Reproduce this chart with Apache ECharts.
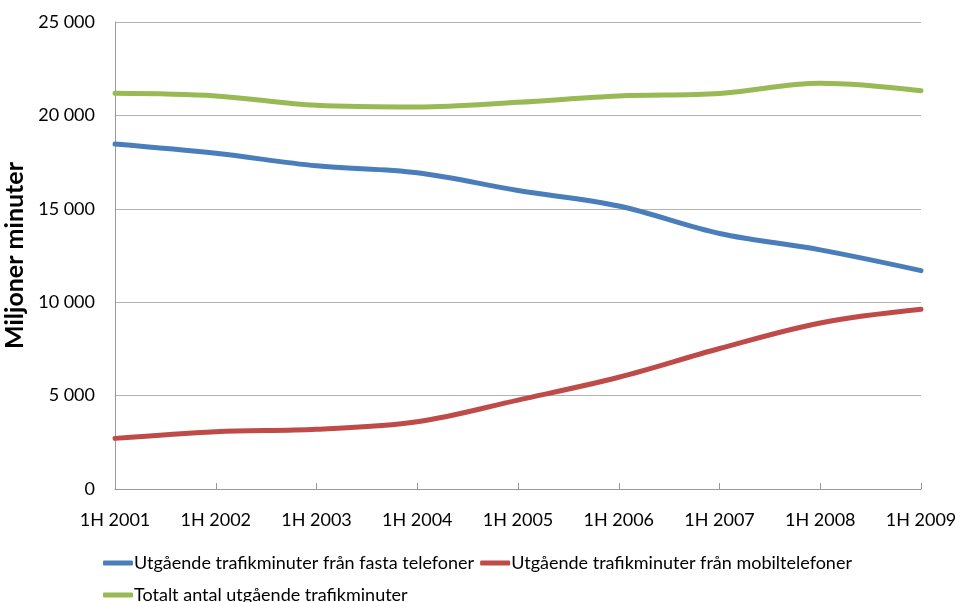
<!DOCTYPE html>
<html>
<head>
<meta charset="utf-8">
<script src="https://cdn.jsdelivr.net/npm/echarts@6/dist/echarts.min.js"></script>
<style>
  html, body { margin: 0; padding: 0; background: #fff; }
  #chart { width: 956px; height: 602px; }
</style>
</head>
<body>
<div id="chart"></div>
<script>
// Half-year periods
const periods = ['1H 2001', '1H 2002', '1H 2003', '1H 2004', '1H 2005', '1H 2006', '1H 2007', '1H 2008', '1H 2009'];

// Outgoing traffic minutes, millions
const fixedMinutes  = [18470, 17970, 17300, 16930, 15980, 15150, 13680, 12800, 11690];
const mobileMinutes = [2710, 3070, 3200, 3600, 4760, 5980, 7520, 8890, 9620];
const totalMinutes  = [21180, 21040, 20540, 20450, 20700, 21040, 21170, 21720, 21320];

const seriesNames = [
  'Utgående trafikminuter från fasta telefoner',
  'Utgående trafikminuter från mobiltelefoner',
  'Totalt antal utgående trafikminuter'
];
const colors = ['#4a7ebb', '#be4b48', '#98b954'];

const FONT = 'Lato, "Open Sans", sans-serif';

function fmt(v) {
  return String(v).replace(/\B(?=(\d{3})+(?!\d))/g, ' ');
}

const chart = echarts.init(document.getElementById('chart'), null, { renderer: 'canvas' });

const mkSeries = (name, data, color) => ({
  name, type: 'line', data, smooth: 0.35, symbol: 'none',
  lineStyle: { color, width: 5, cap: 'round' },
  itemStyle: { color },
  z: 3
});

chart.setOption({
  animation: false,
  backgroundColor: '#fff',
  color: colors,
  grid: { left: 115, right: 35, top: 22, bottom: 113, containLabel: false, outerBoundsMode: 'none' },
  xAxis: {
    type: 'category',
    data: periods,
    boundaryGap: false,
    axisLine: { lineStyle: { color: '#999999', width: 1 } },
    axisTick: { show: true, inside: true, length: 6, alignWithLabel: true, lineStyle: { color: '#999999' } },
    axisLabel: { color: '#000', fontFamily: FONT, fontSize: 18, margin: 22, hideOverlap: false },
    splitLine: { show: false }
  },
  yAxis: {
    type: 'value',
    min: 0, max: 25000, interval: 5000,
    name: 'Miljoner minuter',
    nameLocation: 'middle',
    nameGap: 70,
    nameTextStyle: { color: '#000', fontFamily: FONT, fontSize: 25, fontWeight: 'bold' },
    axisLine: { show: true, lineStyle: { color: '#999999', width: 1 } },
    axisTick: { show: false },
    axisLabel: { color: '#000', fontFamily: FONT, fontSize: 18, margin: 20, formatter: fmt },
    splitLine: { show: true, lineStyle: { color: '#b3b3b3', width: 1 } }
  },
  legend: {
    left: 103, top: 550, width: 850,
    orient: 'horizontal',
    icon: 'roundRect',
    itemWidth: 30, itemHeight: 5,
    itemGap: 6,
    padding: 0,
    textStyle: { color: '#000', fontFamily: FONT, fontSize: 18, lineHeight: 26, padding: [0, 0, 0, -4] },
    data: seriesNames
  },
  series: [
    mkSeries(seriesNames[0], fixedMinutes, colors[0]),
    mkSeries(seriesNames[1], mobileMinutes, colors[1]),
    mkSeries(seriesNames[2], totalMinutes, colors[2])
  ]
});
</script>
</body>
</html>
